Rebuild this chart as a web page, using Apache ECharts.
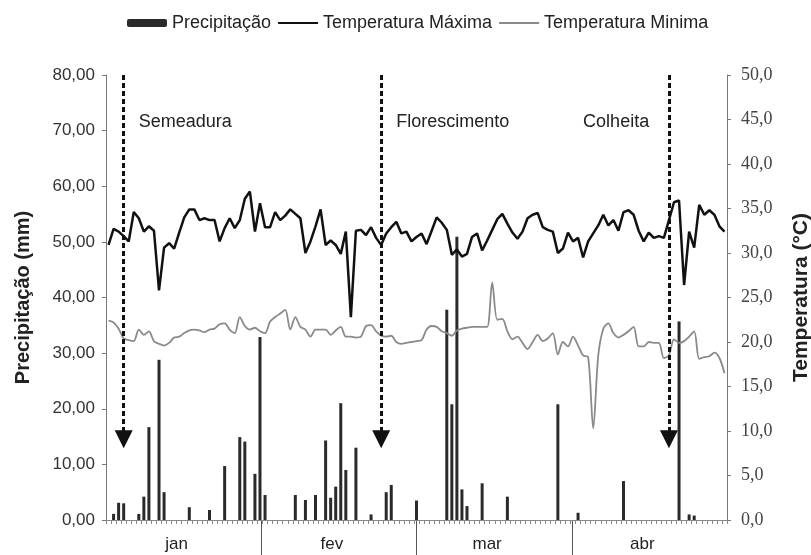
<!DOCTYPE html>
<html><head><meta charset="utf-8">
<script src="https://cdn.jsdelivr.net/npm/echarts@6/dist/echarts.min.js"></script>
<style>html,body{margin:0;padding:0;background:#fff}#c{width:811px;height:555px}</style>
</head><body><div id="c"></div>
<script>
const months = ['jan', 'fev', 'mar', 'abr'];
const dayCount = 123;
const days = Array.from({length: dayCount}, (_, i) => String(i + 1));

const tmax = [30.9,32.7,32.4,31.9,31.3,34.6,33.9,32.4,33.0,32.5, 25.8,30.6,31.1,30.5,32.3,34.0,34.9,34.9,33.7,33.9,
  33.7,33.7,31.3,32.8,33.9,32.8,33.7,36.1,36.9,32.4, 35.6,32.9,32.9,34.6,33.7,34.2,34.9,34.4,33.9,30.0,
  31.3,33.0,34.9,30.9,31.4,30.9,29.9,32.4,22.8,32.5, 32.6,32.0,32.9,31.7,30.9,32.2,32.9,33.5,32.2,32.4,
  31.3,31.8,32.2,31.0,32.5,34.0,33.4,32.6,29.8,30.4, 29.6,29.9,31.8,32.2,30.3,31.4,32.6,33.8,34.4,33.3,
  32.3,31.6,32.4,33.9,34.3,34.5,32.9,32.6,32.4,30.0, 30.5,32.3,31.3,31.7,29.5,31.3,32.2,33.1,34.3,33.1,
  33.7,32.5,34.6,34.8,34.3,32.5,31.3,32.3,31.7,31.9, 31.7,33.7,35.7,35.9,26.4,32.4,30.6,35.4,34.3,34.8,
  34.3,33.0,32.4];

const tmin = [22.4,22.2,21.5,20.4,20.2,20.1,21.4,20.8,21.2,20.1, 19.8,19.6,19.9,20.5,20.6,21.0,21.3,21.4,21.3,21.1,
  21.4,21.5,22.0,22.1,21.4,21.0,22.8,21.8,21.4,21.6, 21.2,21.0,22.3,22.8,23.2,23.6,21.4,22.8,21.7,21.4,
  20.6,21.4,21.4,21.4,20.8,21.3,21.7,20.6,20.6,20.5, 20.6,21.8,21.9,21.2,20.7,20.6,20.7,20.0,19.8,19.9,
  20.0,20.1,20.2,21.4,21.8,21.7,21.2,21.0,20.7,21.3, 21.5,21.6,21.7,21.7,21.7,21.7,26.7,22.5,22.6,21.2,
  20.3,20.6,19.9,19.2,20.0,20.8,20.1,20.4,21.0,18.6, 20.0,19.5,20.6,19.6,18.5,18.3,10.3,18.5,21.5,22.1,
  21.0,20.5,20.8,21.2,21.7,19.5,19.5,20.0,19.9,19.9, 18.2,18.5,20.3,19.9,20.1,20.6,21.2,18.1,18.3,18.4,
  18.8,18.2,16.5];

const precip = [0,1.1,3.1,3.0,0,0,1.1,4.2,16.7,0, 28.8,5.0,0,0,0,0,2.3,0,0,0,
  1.8,0,0,9.7,0,0,14.9,14.1,0,8.3, 32.9,4.5,0,0,0,0,0,4.5,0,3.6,
  0,4.5,0,14.3,4.0,6.0,21.0,9.0,0,13.0, 0,0,1.0,0,0,5.0,6.3,0,0,0,
  0,3.5,0,0,0,0,0,37.8,20.8,50.9, 5.5,2.5,0,0,6.6,0,0,0,0,4.2,
  0,0,0,0,0,0,0,0,0,20.8, 0,0,0,1.3,0,0,0,0,0,0,
  0,0,7.0,0,0,0,0,0,0,0, 0,0,0,35.7,0,1.0,0.8,0,0,0,
  0,0,0];

const leftTicks = [0, 80, 10];
const rightTicks = [0, 50, 5];
const arrowDays = [3, 54, 111];
const arrowTop = 80;
const arrowTip = 14.5;
const stageNames = ['Semeadura', 'Florescimento', 'Colheita'];
const stageDays = [6, 57, 94];
const stageLevel = 71.5;

const sans = "'Liberation Sans', Arial, sans-serif";
const serif = "'Liberation Serif', 'Times New Roman', serif";
const hiddenSymbol = {color: 'rgba(0,0,0,0)', borderColor: 'rgba(0,0,0,0)', borderWidth: 0};

const chart = echarts.init(document.getElementById('c'));
chart.setOption({
  animation: false,
  backgroundColor: '#fff',
  textStyle: {fontFamily: sans},
  legend: {
    top: 9, left: 122, itemWidth: 40, itemHeight: 8, itemGap: 6,
    textStyle: {fontSize: 18, color: '#222', fontFamily: sans},
    data: [
      {name: 'Precipitação'},
      {name: 'Temperatura Máxima', itemStyle: hiddenSymbol},
      {name: 'Temperatura Minima', itemStyle: hiddenSymbol}
    ]
  },
  grid: [
    {left: 106, right: 84, top: 75, bottom: 35, outerBoundsMode: 'none', containLabel: false},
    {left: 106, right: 84, top: 520, bottom: 0, outerBoundsMode: 'none', containLabel: false}
  ],
  xAxis: [
    {type: 'category', gridIndex: 0, data: days, boundaryGap: true,
     axisLine: {lineStyle: {color: '#888', width: 1}},
     axisTick: {show: true, interval: 0, length: 4, lineStyle: {color: '#888'}},
     axisLabel: {show: false}, splitLine: {show: false}},
    {type: 'category', gridIndex: 1, data: months, position: 'top', boundaryGap: true,
     axisLine: {show: false}, axisTick: {show: false},
     axisLabel: {inside: true, margin: 16, fontSize: 17, color: '#222', interval: 0, fontFamily: sans,
                 padding: [0, 14, 0, 0]},
     splitLine: {show: true, interval: 0, showMinLine: false, showMaxLine: false,
                 lineStyle: {color: '#555', width: 1}}}
  ],
  yAxis: [
    {type: 'value', gridIndex: 0, position: 'left', min: leftTicks[0], max: leftTicks[1], interval: leftTicks[2],
     axisLine: {show: true, lineStyle: {color: '#777'}},
     axisTick: {show: true, length: 4, lineStyle: {color: '#777'}},
     axisLabel: {margin: 11, fontSize: 17, color: '#333', fontFamily: sans,
                 formatter: v => v.toFixed(2).replace('.', ',')},
     splitLine: {show: false},
     name: 'Precipitação (mm)', nameLocation: 'middle', nameGap: 73,
     nameTextStyle: {fontSize: 20, fontWeight: 'bold', color: '#222', fontFamily: sans}},
    {type: 'value', gridIndex: 0, position: 'right', min: rightTicks[0], max: rightTicks[1], interval: rightTicks[2],
     axisLine: {show: true, lineStyle: {color: '#777'}},
     axisTick: {show: true, length: 4, lineStyle: {color: '#777'}},
     axisLabel: {margin: 14, fontSize: 18, color: '#444', fontFamily: serif,
                 formatter: v => v.toFixed(1).replace('.', ',')},
     splitLine: {show: false},
     name: 'Temperatura (°C)', nameLocation: 'middle', nameGap: 64,
     nameTextStyle: {fontSize: 21, fontWeight: 'bold', color: '#222', fontFamily: sans}},
    {type: 'value', gridIndex: 1, show: false}
  ],
  series: [
    {name: 'Precipitação', type: 'bar', xAxisIndex: 0, yAxisIndex: 0, data: precip,
     barWidth: 3, itemStyle: {color: '#2a2a2a'}, z: 2,
     markLine: {
       silent: true, symbol: ['none', 'triangle'], symbolSize: 18,
       label: {show: false},
       lineStyle: {color: '#111', width: 3, type: [5, 3]},
       data: arrowDays.map(d => [{coord: [d, arrowTop]}, {coord: [d, arrowTip]}])
     },
     markPoint: {
       silent: true, symbol: 'circle', symbolSize: 0,
       label: {show: true, position: 'inside', align: 'left', verticalAlign: 'middle',
               formatter: '{b}', fontSize: 18, color: '#222', fontFamily: sans},
       data: stageNames.map((n, k) => ({name: n, coord: [stageDays[k], stageLevel]}))
     }},
    {name: 'Temperatura Máxima', type: 'line', xAxisIndex: 0, yAxisIndex: 1, data: tmax,
     symbol: 'none', lineStyle: {color: '#111', width: 2.5}, itemStyle: {color: '#111'}, z: 3},
    {name: 'Temperatura Minima', type: 'line', xAxisIndex: 0, yAxisIndex: 1, data: tmin,
     symbol: 'none', smooth: 0.3, lineStyle: {color: '#8a8a8a', width: 1.8}, itemStyle: {color: '#8a8a8a'}, z: 3}
  ]
});
</script></body></html>
